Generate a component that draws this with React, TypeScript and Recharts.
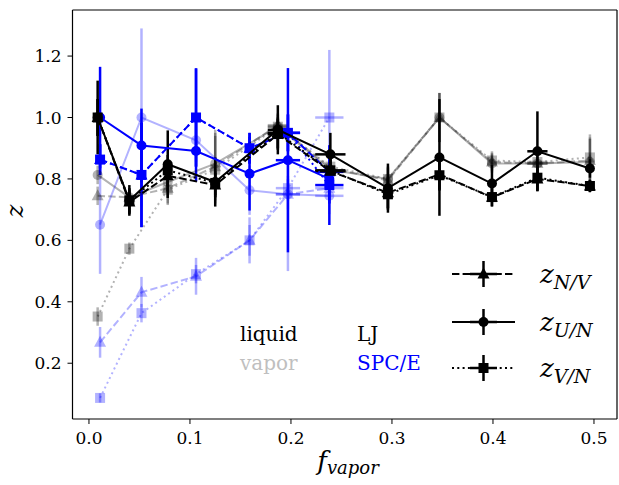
import { ComposedChart, ErrorBar, ReferenceLine, Scatter, XAxis, YAxis } from "recharts";

// LJ sample points (f_vapor)
const ljX = [0.0086, 0.04, 0.078, 0.125, 0.187, 0.239, 0.296, 0.347, 0.399, 0.444, 0.496];
const ljLiqNV = [1.0, 0.725, 0.81, 0.78, 0.945, 0.825, 0.755, 0.815, 0.74, 0.8, 0.777];
const ljLiqUN = [1.0, 0.73, 0.848, 0.79, 0.96, 0.88, 0.77, 0.87, 0.785, 0.89, 0.834];
const ljLiqVN = [1.0, 0.73, 0.828, 0.787, 0.95, 0.828, 0.75, 0.812, 0.741, 0.804, 0.777];
const ljLiqErrUN = [0.12, 0.05, 0.11, 0.08, 0.08, 0.07, 0.08, 0.19, 0.06, 0.13, 0.03];
const ljLiqErrNV = [0.06, 0.04, 0.05, 0.04, 0.05, 0.04, 0.05, 0.05, 0.03, 0.04, 0.02];
const ljLiqXErrUN = [0, 0, 0, 0, 0.01, 0.015, 0, 0, 0, 0.01, 0];
const ljLiqXErrNV = [0, 0, 0, 0, 0.01, 0.015, 0, 0, 0, 0, 0];

const ljVapNV = [0.745, 0.74, 0.77, 0.84, 0.975, 0.835, 0.795, 1.0, 0.855, 0.85, 0.86];
const ljVapUN = [0.813, 0.74, 0.79, 0.85, 0.97, 0.83, 0.8, 1.0, 0.85, 0.85, 0.855];
const ljVapVN = [0.352, 0.573, 0.765, 0.83, 0.97, 0.84, 0.8, 1.0, 0.86, 0.855, 0.87];
const ljVapErr = [0.03, 0.02, 0.05, 0.11, 0.04, 0.04, 0.04, 0.08, 0.03, 0.04, 0.075];
const ljVapXErr = [0, 0, 0, 0, 0.01, 0, 0, 0, 0, 0.01, 0];

// SPC/E sample points
const spX = [0.011, 0.052, 0.106, 0.159, 0.197, 0.238];
const spLiqNV = [0.863, 0.813, 1.0, 0.9, 0.95, 0.823];
const spLiqUN = [1.0, 0.909, 0.891, 0.817, 0.861, 0.8];
const spLiqVN = [0.863, 0.813, 1.0, 0.9, 0.95, 0.78];
const spLiqErrUN = [0.165, 0.12, 0.1, 0.12, 0.3, 0.08];
const spLiqErrNV = [0.05, 0.17, 0.16, 0.05, 0.06, 0.05];
const spLiqErrVN = [0.05, 0.17, 0.16, 0.05, 0.06, 0.13];
const spLiqXErrUN = [0, 0, 0, 0, 0.012, 0];
const spLiqXErrNV = [0, 0, 0, 0, 0.012, 0.014];

const spVapNV = [0.268, 0.431, 0.483, 0.6, 0.75, 0.77];
const spVapUN = [0.651, 1.0, 0.926, 0.763, 0.75, 0.745];
const spVapVN = [0.087, 0.363, 0.49, 0.6, 0.77, 1.0];
const spVapErrUN = [0.16, 0.29, 0.07, 0.08, 0.25, 0.06];
const spVapErrNV = [0.05, 0.05, 0.06, 0.075, 0.05, 0.05];
const spVapErrVN = [0.015, 0.03, 0.03, 0.05, 0.04, 0.22];
const spVapXErr = [0, 0, 0, 0, 0.012, 0.014];

const xTicks = [0, 0.1, 0.2, 0.3, 0.4, 0.5];
const yTicks = [0.2, 0.4, 0.6, 0.8, 1.0, 1.2];

const FONT = "'DejaVu Serif', serif";
const BLACK = "#000";
const GRAY = "rgba(0,0,0,0.3)";
const BLUE = "#0000ff";
const LIGHTBLUE = "rgba(0,0,255,0.3)";
const DASHED = "7.4 3.2";
const DOTTED = "2 3.3";

type Kind = "triangle" | "circle" | "square";

const rows = (xs: number[], ys: number[], ey: number[], ex: number[]) =>
  xs.map((x, i) => ({ x, y: ys[i], ey: ey[i], ex: ex[i] }));

const series = [
  { key: "ljVapNV", data: rows(ljX, ljVapNV, ljVapErr, ljVapXErr), color: GRAY, dash: DASHED, kind: "triangle" as Kind },
  { key: "ljVapUN", data: rows(ljX, ljVapUN, ljVapErr, ljVapXErr), color: GRAY, dash: undefined, kind: "circle" as Kind },
  { key: "ljVapVN", data: rows(ljX, ljVapVN, ljVapErr, ljVapXErr), color: GRAY, dash: DOTTED, kind: "square" as Kind },
  { key: "spVapNV", data: rows(spX, spVapNV, spVapErrNV, spVapXErr), color: LIGHTBLUE, dash: DASHED, kind: "triangle" as Kind },
  { key: "spVapUN", data: rows(spX, spVapUN, spVapErrUN, spVapXErr), color: LIGHTBLUE, dash: undefined, kind: "circle" as Kind },
  { key: "spVapVN", data: rows(spX, spVapVN, spVapErrVN, spVapXErr), color: LIGHTBLUE, dash: DOTTED, kind: "square" as Kind },
  { key: "spLiqNV", data: rows(spX, spLiqNV, spLiqErrNV, spLiqXErrNV), color: BLUE, dash: DASHED, kind: "triangle" as Kind },
  { key: "spLiqUN", data: rows(spX, spLiqUN, spLiqErrUN, spLiqXErrUN), color: BLUE, dash: undefined, kind: "circle" as Kind },
  { key: "spLiqVN", data: rows(spX, spLiqVN, spLiqErrVN, spLiqXErrNV), color: BLUE, dash: DOTTED, kind: "square" as Kind },
  { key: "ljLiqNV", data: rows(ljX, ljLiqNV, ljLiqErrNV, ljLiqXErrNV), color: BLACK, dash: DASHED, kind: "triangle" as Kind },
  { key: "ljLiqUN", data: rows(ljX, ljLiqUN, ljLiqErrUN, ljLiqXErrUN), color: BLACK, dash: undefined, kind: "circle" as Kind },
  { key: "ljLiqVN", data: rows(ljX, ljLiqVN, ljLiqErrNV, ljLiqXErrNV), color: BLACK, dash: DOTTED, kind: "square" as Kind },
];

function Marker({ cx, cy, kind, color }: { cx?: number; cy?: number; kind: Kind; color: string }) {
  if (cx == null || cy == null) return null;
  if (kind === "circle") return <circle cx={cx} cy={cy} r={5} fill={color} />;
  if (kind === "square") return <rect x={cx - 5} y={cy - 5} width={10} height={10} fill={color} />;
  return <polygon points={`${cx},${cy - 6.5} ${cx - 6},${cy + 4.5} ${cx + 6},${cy + 4.5}`} fill={color} />;
}

function LegendHandle({ y, dash, kind }: { y: number; dash?: string; kind: Kind }) {
  return (
    <g>
      <line x1={452} x2={515} y1={y} y2={y} stroke={BLACK} strokeWidth={2} strokeDasharray={dash} />
      <line x1={470} x2={497} y1={y} y2={y} stroke={BLACK} strokeWidth={2.5} />
      <line x1={483.5} x2={483.5} y1={y - 13} y2={y + 13} stroke={BLACK} strokeWidth={2.5} />
      <Marker cx={483.5} cy={y} kind={kind} color={BLACK} />
    </g>
  );
}

function Overlay() {
  const legendRows: Array<{ y: number; dash?: string; kind: Kind; sub: string }> = [
    { y: 274, dash: DASHED, kind: "triangle", sub: "N/V" },
    { y: 322, dash: undefined, kind: "circle", sub: "U/N" },
    { y: 368, dash: DOTTED, kind: "square", sub: "V/N" },
  ];
  return (
    <svg width={619} height={485} style={{ position: "absolute", left: 0, top: 0, pointerEvents: "none" }}>
      <text x={16} y={211} transform="rotate(-90 16 211)" textAnchor="middle" dominantBaseline="middle" fontFamily={FONT} fontStyle="italic" fontSize={24}>
        z
      </text>
      <text x={348} y={470} textAnchor="middle" fontFamily={FONT} fontStyle="italic" fontSize={26}>
        f<tspan fontSize={18} dy={4}>vapor</tspan>
      </text>
      <text x={240} y={341} fontFamily={FONT} fontSize={20} fill={BLACK}>liquid</text>
      <text x={240} y={370} fontFamily={FONT} fontSize={20} fill="#bfbfbf">vapor</text>
      <text x={357} y={341} fontFamily={FONT} fontSize={20} fill={BLACK}>LJ</text>
      <text x={357} y={370} fontFamily={FONT} fontSize={20} fill={BLUE}>SPC/E</text>
      {legendRows.map((r) => (
        <g key={r.sub}>
          <LegendHandle y={r.y} dash={r.dash} kind={r.kind} />
          <text x={540} y={r.y + 9} fontFamily={FONT} fontStyle="italic" fontSize={26}>
            z<tspan fontSize={19} dy={6}>{r.sub}</tspan>
          </text>
        </g>
      ))}
    </svg>
  );
}

export default function App() {
  const tickStyle = { fontFamily: FONT, fontSize: 17, fill: BLACK };
  return (
    <div style={{ position: "relative", width: 619, height: 485, background: "#fff" }}>
      <style>{"body{margin:0}"}</style>
      <ComposedChart width={619} height={485} margin={{ top: 10, right: 2, bottom: 0, left: 0 }}>
        <XAxis
          type="number"
          dataKey="x"
          domain={[-0.0163, 0.5228]}
          allowDataOverflow
          ticks={xTicks}
          tickFormatter={(v: number) => v.toFixed(1)}
          height={66}
          tick={tickStyle}
          tickSize={5}
          tickMargin={8}
          axisLine={{ stroke: BLACK, strokeWidth: 1.2 }}
          tickLine={{ stroke: BLACK }}
        />
        <YAxis
          type="number"
          dataKey="y"
          domain={[0.0184, 1.35]}
          allowDataOverflow
          ticks={yTicks}
          tickFormatter={(v: number) => v.toFixed(1)}
          width={72.5}
          tick={tickStyle}
          tickSize={5}
          tickMargin={6}
          axisLine={{ stroke: BLACK, strokeWidth: 1.2 }}
          tickLine={{ stroke: BLACK }}
        />
        <ReferenceLine y={1.35} stroke={BLACK} strokeWidth={1.2} />
        <ReferenceLine x={0.5228} stroke={BLACK} strokeWidth={1.2} />
        {series.map((s) => (
          <Scatter
            key={s.key}
            data={s.data}
            fill={s.color}
            line={{ stroke: s.color, strokeWidth: 2, strokeDasharray: s.dash }}
            lineType="joint"
            isAnimationActive={false}
            shape={(p: any) => <Marker cx={p.cx} cy={p.cy} kind={s.kind} color={s.color} />}
          >
            <ErrorBar dataKey="ey" direction="y" width={0} stroke={s.color} strokeWidth={2.5} />
            <ErrorBar dataKey="ex" direction="x" width={0} stroke={s.color} strokeWidth={2.5} />
          </Scatter>
        ))}
      </ComposedChart>
      <Overlay />
    </div>
  );
}
